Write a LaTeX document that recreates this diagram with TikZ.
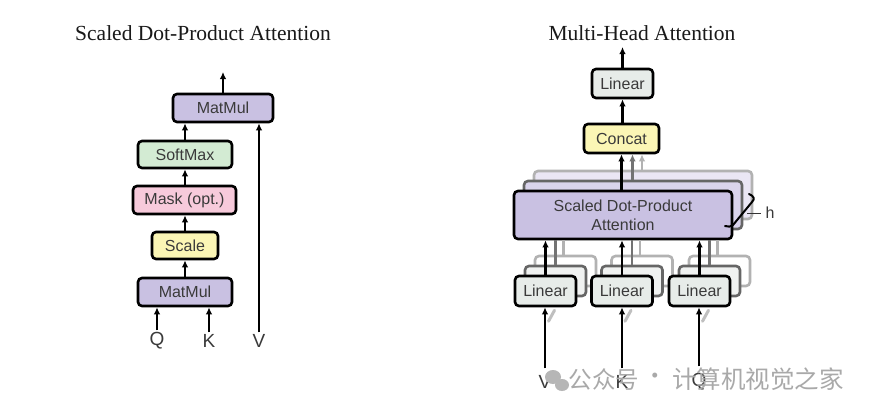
\documentclass[tikz,border=0pt]{standalone}
\usepackage{fontspec}
\setmainfont{Liberation Serif}
\newfontfamily\helv{Liberation Sans}
\newfontfamily\cjk{Noto Sans CJK SC}
\usetikzlibrary{arrows.meta}
\definecolor{txt}{HTML}{3A3A3A}
\definecolor{purp}{HTML}{C9C1E2}
\definecolor{purpB}{HTML}{DAD4EC}
\definecolor{purpC}{HTML}{EAE6F4}
\definecolor{grn}{HTML}{D3EBD3}
\definecolor{pnk}{HTML}{F7CADB}
\definecolor{yel}{HTML}{FBF6B5}
\definecolor{lgray}{HTML}{E7ECE9}
\definecolor{lgrayB}{HTML}{F0F2F1}
\definecolor{wm}{HTML}{A9A9A9}
\tikzset{
  box/.style={draw=black, line width=2.6pt, rounded corners=4pt, inner sep=0pt,
    text=txt, font=\helv\fontsize{16}{19}\selectfont, align=center},
  backB/.style={box, draw=black!60, fill=purpB},
  backC/.style={box, draw=black!30, fill=purpC},
  linB/.style={box, draw=black!60, fill=lgrayB},
  linC/.style={box, draw=black!30, fill=white},
  arr/.style={line width=2.2pt, -{Latex[length=7pt,width=6.5pt]}},
  garr/.style={arr, draw=black!55},
  garrC/.style={arr, draw=black!30},
  lab/.style={inner sep=0pt, text=txt, font=\helv\fontsize{19}{21}\selectfont},
  title/.style={inner sep=0pt, font=\fontsize{21.5}{24}\selectfont, text=black!90},
  wmk/.style={inner sep=0pt, text=wm, font=\cjk\fontsize{23.5}{25}\selectfont}
}
\begin{document}
\begin{tikzpicture}[x=1pt,y=-1pt]
\useasboundingbox (0,0) rectangle (871,413);
\fill[white] (0,0) rectangle (871,413);

% ---------------- Left: Scaled Dot-Product Attention
\node[title] (t1) at (203,33) {Scaled Dot-Product Attention};
\node[box, fill=purp, minimum width=100pt, minimum height=28pt] (mm2) at (223,108) {MatMul};
\node[box, fill=grn, minimum width=94pt, minimum height=27pt] (sm) at (185,154.5) {SoftMax};
\node[box, fill=pnk, minimum width=103pt, minimum height=28pt] (mask) at (184.5,200) {Mask (opt.)};
\node[box, fill=yel, minimum width=66pt, minimum height=27pt] (sc) at (185,245.5) {Scale};
\node[box, fill=purp, minimum width=94pt, minimum height=28pt] (mm1) at (185,292) {MatMul};
\node[lab] (q) at (157,341) {Q};
\node[lab] (k) at (209,341) {K};
\node[lab] (v) at (259,341) {V};
\coordinate (out1) at (223,72);

\draw[arr] ([yshift=2pt]q.north) -- (q.north |- mm1.south);
\draw[arr] ([yshift=2pt]k.north) -- (k.north |- mm1.south);
\draw[arr] ([yshift=2pt]v.north) -- (v.north |- mm2.south);
\draw[arr] (mm1.north) -- (sc.south);
\draw[arr] (sc.north) -- (sc.north |- mask.south);
\draw[arr] (mask.north -| sm.south) -- (sm.south);
\draw[arr] (sm.north) -- (sm.north |- mm2.south);
\draw[arr] (mm2.north) -- (out1);

% ---------------- Right: Multi-Head Attention
\node[title] (t2) at (642,33) {Multi-Head Attention};

% back layers of scaled dot-product attention
\node[backC, minimum width=218pt, minimum height=48pt] (sdC) at (643,195) {};
\node[backB, minimum width=218pt, minimum height=48pt] (sdB) at (633,205) {};

% back layers of linears
\foreach \n/\x in {1/545.5, 2/622, 3/699.5}{
  \node[linC, minimum width=61pt, minimum height=30pt] (linC\n) at (\x+20,271) {};
  \node[linB, minimum width=61pt, minimum height=30pt] (linB\n) at (\x+10,281) {};
}

\node[box, fill=lgray, minimum width=61pt, minimum height=29pt] (lin4) at (622.5,83.5) {Linear};
\node[box, fill=yel, minimum width=75pt, minimum height=29pt] (cat) at (621.5,138.5) {Concat};
\coordinate (out2) at (622.5,47);

% grey arrows from back layers into Concat
\draw[garrC] (sdC.north -| 642,0) -- (642,0 |- cat.south);
\draw[garr] (sdB.north -| 632.5,0) -- (632.5,0 |- cat.south);

\node[box, fill=purp, minimum width=218pt, minimum height=48pt] (sd) at (623,215)
  {Scaled Dot-Product\\Attention};

% grey lines from back linears up to attention
\foreach \n in {1,2,3}{
  \draw[line width=2.2pt, black!30] ([xshift=-2pt]linC\n.north) -- ([xshift=-2pt]linC\n.north |- sd.south);
  \draw[line width=2.2pt, black!55] (linB\n.north) -- (linB\n.north |- sd.south);
}

\node[box, fill=lgray, minimum width=61pt, minimum height=30pt] (lin1) at (545.5,291) {Linear};
\node[box, fill=lgray, minimum width=61pt, minimum height=30pt] (lin2) at (622,291) {Linear};
\node[box, fill=lgray, minimum width=61pt, minimum height=30pt] (lin3) at (699.5,291) {Linear};

\draw[arr] (lin1.north) -- (lin1.north |- sd.south);
\draw[arr] (lin2.north) -- (lin2.north |- sd.south);
\draw[arr] (lin3.north) -- (lin3.north |- sd.south);
\draw[arr] (sd.north -| cat.south) -- (cat.south);
\draw[arr] (cat.north -| lin4.south) -- (lin4.south);
\draw[arr] (lin4.north) -- (out2);

% h bracket
\draw[line width=2pt, line cap=round, black] (749,194) .. controls (754,196) and (755,199) .. (752,202)
  -- (733,225) .. controls (731,227) and (728,227) .. (725,226);
\draw[line width=1.5pt, black!80] (747,213.5) -- (761,213.5);
\node[lab, font=\helv\fontsize{16}{18}\selectfont] (h) at (770,213) {h};

% inputs
\node[lab] (vv) at (545,382) {V};
\node[lab] (kk) at (622,382) {K};
\node[lab] (qq) at (699,382) {Q};
\foreach \a/\b in {vv/lin1, kk/lin2, qq/lin3}{
  \draw[line width=3pt, black!25, line cap=round] ([xshift=3pt,yshift=-14pt]\b.south) -- ([xshift=9pt,yshift=-3pt]\b.south);
  \draw[arr] ([yshift=7pt]\a.north) -- (\a.north |- \b.south);
}

% watermark
\fill[wm!85] (553,377) ellipse (8pt and 7pt);
\fill[wm!85] (562,385) ellipse (7pt and 6pt);
\node[wmk] (w1) at (604,379) {公众号};
\node[wmk] (w2) at (655,379) {·};
\node[wmk, font=\cjk\fontsize{24.5}{26}\selectfont] (w3) at (758,379) {计算机视觉之家};
\end{tikzpicture}
\end{document}
